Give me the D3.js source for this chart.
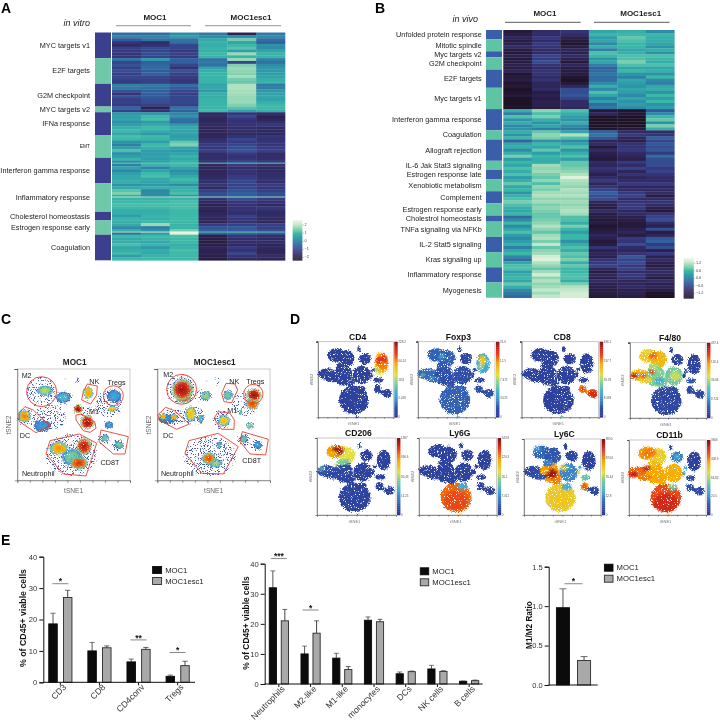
<!DOCTYPE html>
<html><head><meta charset="utf-8">
<script src="https://cdn.jsdelivr.net/npm/d3@7"></script>
<style>html,body{margin:0;padding:0;background:#fff}svg{display:block;font-family:"Liberation Sans",Arial,sans-serif;filter:blur(0.35px)}</style>
</head><body><svg id="fig" width="720" height="723"></svg>
<script>
// ---------- Panel A data ----------
const aLabels=["MYC targets v1","E2F targets","G2M checkpoint","MYC targets v2","IFNa response","EMT","Interferon gamma response","Inflammatory response","Cholesterol homeostasis","Estrogen response early","Coagulation"];
const aBlocks=[
[[-0.3,-0.3,0.2,-0.1,-1.7,-0.1],[0.1,0.1,0.5,0.2,0.3,0.2],[-0.6,-0.2,-0.2,0.7,1.4,-0.3],[-1.2,-1.4,-0.3,0.9,0.6,-0.5],[-1.5,-1.3,-0.9,0.8,1.0,0.3],[-1.0,-0.8,-0.9,0.9,1.2,0.2],[-1.1,-0.9,-1.1,0.8,0.5,0.6],[-1.2,-0.8,-1.0,1.0,1.7,0.9],[-1.2,-0.9,-1.1,0.9,0.9,0.9]],
[[-0.2,0.4,-0.5,-0.2,1.7,0.0],[-0.9,-0.5,-0.5,-0.1,-0.9,-0.2],[-0.7,-0.4,-0.9,-0.2,1.5,0.2],[-1.0,-0.3,-1.3,0.6,1.7,0.4],[-0.8,-0.6,-0.7,0.8,1.6,0.4],[-1.0,-0.5,-1.0,0.9,1.5,0.5],[-0.9,-0.9,-1.1,0.9,1.8,0.6],[-1.0,-1.0,-1.2,0.9,1.4,0.8],[-1.1,-1.0,-1.2,0.9,1.3,0.9]],
[[0,-0.1,-0.3,0.6,1.9,-0.1],[-0.1,-0.2,-0.6,0.7,1.9,0.0],[-0.7,-0.5,-0.9,0.4,1.8,0.4],[-1.2,-0.5,-1.0,0.8,1.8,0.6],[-0.7,-0.6,-0.9,0.8,1.7,0.7],[-1.0,-0.7,-0.9,0.9,1.7,0.6],[-1.0,-0.8,-0.9,0.9,1.7,0.8],[-1.1,-1.0,-1.0,0.9,1.5,1.0]],
[[-0.4,-1.7,-0.2,0.9,1.2,1.0],[-1.0,-1.3,-0.5,1.0,0.6,0.8]],
[[0.4,0.4,0.1,-1.5,-1.2,-1.4],[0.5,1.0,0.3,-1.5,-0.9,-1.7],[0.6,1.1,-0.2,-1.6,-1.2,-1.6],[0.3,0.4,-0.3,-1.5,-1.3,-1.4],[0.5,0.7,0.4,-1.5,-1.3,-1.2],[0.8,1.0,0.7,-1.6,-1.4,-1.5],[1.0,0.8,0.6,-1.6,-1.4,-1.5],[0.7,0.4,0.6,-1.6,-1.5,-1.5]],
[[1.1,1.0,0.5,-1.6,-1.3,-1.2],[1.0,0.9,0.6,-1.4,-0.9,-1.3],[0.3,0.5,1.3,-1.3,-1.1,-1.2],[0.0,1.0,1.5,-1.1,-0.9,-1.2],[0.5,0.8,0.6,-1.2,-0.8,-1.1],[1.1,0.5,0.4,-1.0,-0.7,-1.0],[0.3,0.5,0.6,-1.4,-1.1,-1.4],[0.5,0.6,0.9,-1.4,-1.3,-1.4]],
[[0.9,0.5,0.7,-1.4,-1.2,-1.4],[0.2,0.6,0.9,-1.3,-0.9,-1.1],[0.0,0.9,1.0,-1.5,-1.1,-1.3],[0.6,0.1,0.6,-1.6,-1.4,-1.5],[0.1,0.6,0.2,-1.6,-1.3,-1.5],[0.5,1.0,0.4,-1.6,-1.3,-1.4],[0.7,1.1,0.7,-1.5,-1.1,-1.4],[0.7,0.7,1.0,-1.4,-1.0,-1.3],[0.8,0.6,0.8,-1.4,-0.9,-1.4]],
[[0.3,0.4,0.2,-1.2,-1.0,-1.1],[0.7,0.8,0.8,-1.5,-0.9,-1.2],[1.2,0.1,0.9,-1.0,-0.7,-1.0],[1.5,0.2,1.1,-0.8,-0.5,-0.8],[0.8,0.2,0.4,-0.8,-0.5,-0.8],[0.9,0.9,0.9,-1.3,-0.8,-1.1],[1.0,1.0,1.1,-1.5,-1.2,-1.3],[1.1,1.1,1.1,-1.7,-1.3,-1.5],[1.0,1.0,1.1,-1.6,-1.3,-1.2],[0.8,0.8,1.0,-1.7,-1.3,-1.4]],
[[0.8,0.8,1.0,-1.6,-1.4,-1.5],[0.5,0.9,1.0,-1.5,-1.0,-1.4],[0.9,0.8,1.0,-1.6,-1.2,-1.5]],
[[0.8,1.0,1.0,-1.6,-1.3,-1.5],[0.7,1.7,0.9,-1.1,-1.0,-1.0],[0.2,0.0,0.9,-0.7,-0.6,-1.0],[0.8,0.3,1.4,-0.5,-0.6,-0.8],[-0.2,0.4,2.5,-0.5,-0.4,-0.6]],
[[1.0,1.0,1.1,-1.8,-1.2,-1.4],[0.7,0.9,1.0,-1.9,-1.4,-1.5],[0.8,0.7,1.0,-1.9,-1.4,-1.4],[1.1,0.9,0.8,-1.8,-1.5,-1.6],[0.7,0.4,0.9,-1.6,-1.1,-1.5],[0.8,0.8,1.1,-1.7,-1.3,-1.6],[1.0,0.7,1.0,-1.7,-0.9,-1.6],[0.5,0.9,1.0,-1.9,-1.3,-1.4],[1.0,1.0,1.0,-1.9,-1.5,-1.6]]
];
// thin light streaks: row index, six values
const aStreaks=[[45.7,[1.3,1.3,1.3,1.2,1.2,1.2]],[57.6,[2.0,2.0,2.0,1.6,1.6,1.6]],[69.9,[2.0,2.2,2.6,1.2,1.3,1.3]]];
const aTicks=[2,1,0,-1,-2];
// ---------- Panel B data ----------
const bLabels=["Unfolded protein response","Mitotic spindle","Myc targets v2","G2M checkpoint","E2F targets","Myc targets v1","Interferon gamma response","Coagulation","Allograft rejection","IL-6 Jak Stat3 signaling","Estrogen response late","Xenobiotic metabolism","Complement","Estrogen response early","Cholestrol homeostasis","TNFa signaling via NFKb","IL-2 Stat5 signaling","Kras signaling up","Inflammatory response","Myogenesis"];
const bBlocks=[
[[-1.3,-0.9,-0.8,0.4,0.5,0.1],[-1.2,-0.9,-0.9,0.6,0.6,0.6],[-1.0,-0.7,-1.1,0.3,0.8,0.5]],
[[-1.2,-0.9,-1.3,0.4,0.7,0.5],[-1.1,-0.7,-1.4,0.1,0.6,0.4],[-0.9,-0.8,-1.2,0.5,0.6,0.2],[-1.2,-0.9,-1.0,0.0,0.4,0.5]],
[[-1.3,-0.9,-1.1,0.7,0.5,0.2],[-1.1,-0.6,-0.9,0.6,0.7,0.7]],
[[-1.3,-0.7,-1.1,0.2,0.7,0.6],[-1.2,-0.5,-1.3,0.4,0.9,0.5],[-1.1,-0.8,-1.0,0.0,0.7,0.7],[-1.2,-0.9,-1.2,-0.3,0.4,0.4]],
[[-1.0,-0.8,-1.2,-0.2,0.6,0.5],[-1.4,-0.8,-1.2,-0.1,0.2,0.2],[-1.3,-0.9,-1.4,-0.2,0.0,0.6],[-1.2,-0.8,-1.5,-0.2,0.4,0.1],[-1.4,-1.0,-1.3,0.1,0.3,0.0],[-1.3,-1.0,-1.0,0.5,0.2,0.4]],
[[-1.5,-0.9,-0.5,0.1,0.4,0.5],[-1.4,-1.2,-0.5,0.7,0.3,0.2],[-1.3,-1.1,-0.4,0.4,0.1,0.6],[-1.5,-1.2,-0.6,0.0,0.4,0.3],[-1.5,-1.1,-0.9,0.3,0.2,0.6],[-1.6,-1.1,-0.9,-0.2,0.3,0.2],[-1.6,-1.2,-1.0,-0.1,0.1,0.3]],
[[0.5,1.0,0.7,-1.3,-1.4,-0.4],[0.0,0.7,0.5,-1.0,-1.3,0.1],[0.7,0.9,0.3,-1.6,-1.5,0.6],[0.2,0.5,0.2,-1.6,-1.6,0.8],[0.5,0.2,0.5,-1.7,-1.7,0.2],[0.1,0.4,0.1,-1.6,-1.6,0.9],[0.2,0.0,-0.1,-1.4,-1.3,0.5]],
[[0.5,0.8,0.4,-0.3,-0.9,-0.9],[0.2,1.0,1.2,-0.1,-0.7,-0.8],[0.6,0.9,0.7,-0.4,-1.0,-0.3]],
[[-0.3,0.2,0.1,-1.0,-1.1,-0.6],[0.4,0.6,0.4,-0.9,-0.8,-0.4],[0.5,0.4,0.7,-1.3,-0.8,-0.5],[0.1,0.8,0.2,-0.9,-0.7,-0.4],[0.5,0.3,0.5,-1.1,-0.9,-0.7],[0.9,0.6,0.7,-1.2,-1.0,-0.2],[0.3,0.5,0.3,-1.3,-1.1,-0.5]],
[[0.6,0.5,0.8,-0.9,-0.7,-0.5],[0.4,1.1,0.8,-1.0,-0.9,-0.5],[0.7,1.0,0.9,-0.8,-0.6,-0.7]],
[[0.5,1.1,1.0,-0.9,-1.0,-0.6],[0.7,0.9,1.2,-1.1,-0.8,-0.8],[0.3,0.8,1.5,-0.9,-1.0,-0.9]],
[[0.5,1.0,1.2,-0.7,-0.9,-0.9],[0.8,0.7,1.1,-1.0,-0.7,-0.7],[0.4,1.0,1.0,-0.8,-1.0,-1.0],[0.6,0.9,1.2,-0.6,-0.9,-0.9]],
[[0.2,1.1,1.1,-0.3,-0.7,-0.9],[0.5,1.2,1.2,-0.5,-0.6,-1.2],[0.7,1.0,1.0,-0.5,-0.9,-0.9],[0.9,1.1,1.1,-1.0,-0.8,-0.8]],
[[0.7,0.9,1.0,-1.1,-0.7,-0.9],[0.5,1.0,1.1,-1.2,-0.7,-1.1],[0.4,0.9,1.2,-0.9,-1.0,-1.3],[0.6,0.8,1.1,-1.2,-0.9,-0.8]],
[[-0.2,0.8,0.7,-1.2,-1.1,-0.6],[0.1,0.9,0.7,-1.3,-1.2,-0.5]],
[[0.6,1.0,0.5,-1.2,-1.3,-0.9],[0.1,1.2,0.9,-1.4,-1.3,-1.1],[0.4,1.0,0.6,-1.3,-1.1,-0.5],[0.7,0.8,0.3,-1.2,-1.0,-1.2],[0.3,1.1,0.6,-1.0,-1.2,-1.0]],
[[0.1,1.2,0.6,-1.1,-0.7,-0.4],[0.3,0.9,0.2,-1.3,-0.8,-0.3],[0.5,1.3,0.5,-1.2,-0.5,-0.7],[0.0,0.8,0.7,-0.8,-0.9,-0.5],[0.4,1.0,0.5,-1.1,-1.0,-1.1]],
[[0.6,1.1,0.8,-1.0,-0.8,-0.7],[0.1,1.4,0.7,-1.1,-0.4,-1.1],[-0.2,1.5,0.9,-0.8,-0.6,-0.9],[0.4,1.2,0.5,-0.7,-0.5,-1.1],[0.7,1.0,0.8,-0.6,-0.7,-1.2]],
[[0.7,0.8,0.6,-1.0,-0.6,-1.0],[0.3,1.1,0.6,-1.2,-0.9,-0.9],[0.5,1.4,0.7,-1.0,-0.7,-1.0],[0.6,1.0,0.7,-1.1,-0.8,-1.2],[0.4,1.2,0.5,-0.9,-1.0,-0.9]],
[[0.8,1.0,0.9,-1.1,-1.0,-1.1],[0.5,1.1,1.2,-1.1,-0.9,-1.0],[0.1,1.3,1.3,-1.2,-1.1,-1.2],[-0.1,1.1,1.4,-1.2,-1.1,-1.6],[-0.2,1.3,1.4,-1.3,-1.2,-1.7]]
];
const bTicks=[1.2,0.6,0.0,-0.6,-1.2];
// ---------- Panel C data (t-SNE units, gates and density blobs) ----------
const cNames=["MOC1","MOC1esc1"];
const cSparse=[
 [[73,68,44,44],[140,85,28,20],[100,145,48,38],[183,35,6,12],[150,30,5,5],[30,145,30,24],[165,258,78,62],[275,105,42,38],[262,212,20,18],[305,228,20,18],[210,130,20,20]],
 [[73,61,44,44],[140,80,26,20],[110,140,35,30],[183,35,6,12],[150,30,5,5],[50,145,42,24],[160,262,78,60],[265,105,38,35],[262,212,20,18],[302,228,20,18],[195,150,26,30]]
];
const cDensity=[
 [[83,65,26,17,.52],[138,85,24,18,.36],[213,72,16,20,.72],[290,82,24,22,.3],[285,120,15,10,.66],[182,120,15,14,.98],[210,160,23,23,.98],[275,168,14,12,.3],[22,141,21,21,.76],[75,170,28,20,.28],[263,208,13,13,.44],[305,228,13,13,.44],[165,265,34,28,.45],[125,238,31,23,.74],[200,232,25,29,.94],[185,282,29,21,.88]],
 [[145,80,18,15,.5],[100,135,18,25,.66],[130,148,10,15,.4],[212,78,16,16,.45],[285,105,21,19,.85],[290,78,25,21,.98],[250,130,6,8,.45],[278,170,12,10,.5],[200,155,19,19,.66],[30,150,30,15,.25],[18,143,11,11,.72],[50,145,12,10,.72],[260,210,14,12,.42],[302,228,13,13,.3],[185,228,10,12,.4],[175,283,22,14,.5],[155,268,23,19,.84],[80,85,26,19,.9],[75,62,36,36,.97]]
];
const cCircles=[[[73,68,45],[288,80,30]],[[73,61,45],[288,75,29]]];
const cPolys=[
 [[[210,45],[240,51],[238,78],[220,105],[193,93],[198,68]],[[176,138],[193,135],[233,161],[236,178],[218,190],[198,185],[176,153]],[[23,113],[48,123],[98,171],[56,191],[6,158],[5,133]],[[251,183],[333,203],[323,255],[288,255],[245,218]],[[98,215],[186,195],[238,223],[206,321],[138,315],[86,255]]],
 [[[206,43],[233,45],[241,63],[223,101],[200,98],[193,73]],[[183,128],[218,133],[231,153],[230,181],[193,181],[170,148]],[[25,115],[51,125],[96,165],[58,181],[8,155],[1,138]],[[255,188],[333,211],[325,258],[278,255],[248,218]],[[95,215],[183,193],[243,233],[198,315],[133,313],[83,253]]]
];
const cLabelText=["M2","NK","Tregs","M1","DC","CD8T","Neutrophil"];
const cLabelAt=[
 [[28,21],[231,38],[298,40],[230,128],[23,200],[278,281],[63,313]],
 [[33,16],[231,38],[294,38],[225,124],[33,200],[283,275],[60,313]]
];
// ---------- Panel D data (t-SNE units) ----------
const tsneCells=[[55,40,28,20],[85,50,25,25],[28,97,28,17],[76,100,27,32],[131,100,27,28],[123,23,5,9],[141,51,18,17],[191,65,20,30],[166,85,6,6],[161,100,5,8],[181,115,14,8],[179,142,11,12],[208,155,14,13],[191,150,8,5],[108,175,45,43],[128,140,14,8],[118,225,5,2],[70,72,14,10],[45,112,22,10],[95,120,16,16]];
const dMarkers=["CD4","Foxp3","CD8","F4/80","CD206","Ly6G","Ly6C","CD11b"];
const dCellValues=[
 [.05,.05,.05,.05,.05,.05,.05,.7,.05,.05,.06,.05,.05,.05,.05,.05,.05,.05,.05,.05],
 [.14,.14,.16,.1,.1,.05,.07,.3,.07,.07,.07,.1,.1,.1,.14,.14,.3,.12,.16,.1],
 [.05,.05,.05,.05,.05,.05,.05,.05,.05,.05,.05,.7,.8,.75,.05,.05,.4,.05,.05,.05],
 [.62,.66,.65,.45,.42,.05,.07,.05,.05,.05,.12,.07,.07,.07,.07,.07,.1,.5,.6,.45],
 [.72,.55,.1,.07,.05,.05,.05,.05,.05,.05,.05,.05,.05,.05,.06,.05,.05,.45,.08,.06],
 [.05,.05,.05,.05,.05,.05,.05,.05,.05,.05,.05,.05,.05,.05,.78,.3,.65,.05,.05,.05],
 [.15,.12,.08,.72,.22,.05,.07,.05,.3,.55,.4,.7,.07,.1,.6,.3,.7,.2,.1,.75],
 [.72,.6,.78,.7,.68,.05,.2,.05,.3,.3,.1,.1,.08,.08,.82,.5,.7,.65,.75,.7]
];
const dSpots=[
 [[191,55,17,20,.85],[196,72,14,12,.75],[178,85,8,10,.5],[188,95,8,5,.55],[185,40,8,6,.7]],
 [[190,55,12,14,.62],[185,75,8,8,.5],[70,45,8,8,.3],[15,100,6,5,.4],[40,110,5,4,.38]],
 [[179,142,8,8,.85],[208,155,10,8,.88],[216,160,6,6,.9]],
 [[68,38,12,10,.8],[55,30,12,6,.55],[14,100,12,8,.9],[40,100,8,6,.85],[65,88,8,6,.85],[135,100,15,15,.52],[88,115,14,10,.3]],
 [[60,37,16,13,.95],[45,45,14,8,.68],[80,55,12,12,.55],[85,70,10,8,.4],[15,90,9,6,.4],[55,80,6,5,.5]],
 [[125,143,14,8,.3],[108,185,35,30,.82]],
 [[80,103,18,14,.95],[62,95,14,8,.7],[40,30,12,8,.25],[118,85,14,8,.62],[128,82,8,6,.35],[178,143,7,9,.82],[108,180,38,32,.62],[125,145,14,8,.3]],
 [[52,85,10,8,.92],[12,105,12,9,.9],[108,190,36,28,.88],[130,145,12,7,.4],[60,40,20,12,.76],[141,50,9,8,.32]]
];
const dBarLabels=[["228.2","60.24","18.8","5.028","0"],["31.6","12.5","7.372","3.025","0"],["436.1","137.7","33.78","8.093","0"],["437.4","132.4","36.86","8.724","0"],["1397","696.6","80.43","14.25","0"],["543.8","120.3","26.1","7.011","0"],["3950","874.6","76.44","12.8","0"],["3606","408.9","66.82","20.5","0"]];
// ---------- Panel E data ----------
const seriesNames=["MOC1","MOC1esc1"];
const e1Cats=["CD3","CD8","CD4conv","Tregs"];
const e1Moc1=[18.6,10,6.5,1.9], e1Moc1Top=[22,12.7,7.4,2.3];
const e1Esc=[27,11,10.5,5.3], e1EscTop=[29.3,11.6,11.1,6.7];
const e1Sig=[["CD3","*",31.4],["CD4conv","**",13.5],["Tregs","*",9.5]];
const e2Cats=["Neutrophils","M2-like","M1-like","monocytes","DCs","NK cells","B cells"];
const e2Moc1=[32,10,8.6,21.2,3.4,5,0.9], e2Moc1Top=[37.6,12.6,10.2,22.3,4.0,6.2,1.0];
const e2Esc=[21,16.9,4.8,20.7,4.1,4.2,1.1], e2EscTop=[24.8,21,5.8,21.5,4.3,4.4,1.3];
const e2Sig=[["Neutrophils","***",41.7],["M2-like","*",24.6]];
const e3Moc1=[0.98], e3Moc1Top=[1.22], e3Esc=[0.31], e3EscTop=[0.36];
const e3Sig=[["r","*",1.284]];

// ---------- shared ----------
const svg=d3.select("#fig");
const defs=svg.append("defs");
const ink="#1c1c1c";
function txt(g,x,y,s,o={}){
 const t=g.append("text").attr("x",x).attr("y",y).text(s)
  .attr("font-size",o.size||7).attr("fill",o.fill||ink)
  .attr("text-anchor",o.anchor||"middle").attr("dominant-baseline","central");
 if(o.bold)t.attr("font-weight","bold");
 if(o.italic)t.attr("font-style","italic");
 if(o.rotate!==undefined)t.attr("transform",`rotate(${o.rotate} ${x} ${y})`);
 return t;
}
const heatColor=d3.scaleLinear()
 .domain([-2.4,-1.7,-1.1,-0.5,0,0.5,1,1.6,2.2,2.65])
 .range(["#1e1326","#2d2252","#373a82","#32609f","#2f80a5","#2f9eaa","#3cb9a8","#8fd5b2","#d0ecd0","#eef7e8"])
 .clamp(true);
const jetColor=d3.scaleLinear()
 .domain([0,.1,.3,.45,.55,.7,.85,1])
 .range(["#2a3590","#2f4ea8","#3fa9dc","#7fcf8f","#e4e040","#f7a800","#e5301c","#7d0c12"])
 .clamp(true);
function noiseFilter(id,disp,freq,seed,k,c){
 const f=defs.append("filter").attr("id",id).attr("x","-10%").attr("y","-10%").attr("width","120%").attr("height","120%").attr("color-interpolation-filters","sRGB");
 f.append("feTurbulence").attr("type","fractalNoise").attr("baseFrequency",freq).attr("numOctaves",1).attr("seed",seed).attr("result","n");
 f.append("feDisplacementMap").attr("in","SourceGraphic").attr("in2","n").attr("scale",disp).attr("xChannelSelector","R").attr("yChannelSelector","G").attr("result","d");
 f.append("feColorMatrix").attr("in","n").attr("type","matrix").attr("values",`0 0 0 0 0 0 0 0 0 0 0 0 0 0 0 ${k} 0 0 0 ${c}`).attr("result","m");
 f.append("feComposite").attr("in","d").attr("in2","m").attr("operator","in");
}
noiseFilter("grainD",5,1.3,4,10,-2.9);
noiseFilter("grainSparse",5,1.3,7,14,-7.8);
noiseFilter("grainDense",5,1.3,11,10,-2.4);
defs.append("filter").attr("id","soft").attr("x","-40%").attr("y","-40%").attr("width","180%").attr("height","180%").attr("color-interpolation-filters","sRGB")
 .append("feGaussianBlur").attr("stdDeviation",1.3);
defs.append("filter").attr("id","heatBlur").attr("x","-2%").attr("y","-2%").attr("width","104%").attr("height","104%").attr("color-interpolation-filters","sRGB")
 .append("feGaussianBlur").attr("stdDeviation",0.3);

// ---------- heatmaps ----------
function heatmap(o){
 const rows=o.blocks.flat();
 const y=d3.scaleBand().domain(d3.range(rows.length)).range([o.top,o.bottom]);
 const x=d3.scaleBand().domain(d3.range(6)).range([o.left,o.right]);
 const tv=v=>heatColor(v*o.factor);
 const g=svg.append("g").attr("filter","url(#heatBlur)");
 rows.forEach((r,i)=>g.selectAll(null).data(r).join("rect")
   .attr("x",(d,j)=>x(j)).attr("y",y(i)).attr("width",x.bandwidth()+.3).attr("height",y.bandwidth()+.3).attr("fill",d=>tv(d)));
 (o.streaks||[]).forEach(([p,vals])=>g.selectAll(null).data(vals).join("rect")
   .attr("x",(d,j)=>x(j)).attr("y",o.top+p*y.step()).attr("width",x.bandwidth()+.3).attr("height",1).attr("fill",d=>tv(d)));
 let c=0;
 o.blocks.forEach((b,i)=>{
  const y0=y(c),y1=y(c+b.length-1)+y.bandwidth();
  svg.append("rect").attr("x",o.sideX).attr("y",y0).attr("width",o.sideW).attr("height",y1-y0).attr("fill",o.sideColors[i%2]);
  const lab=o.labels[i];
  txt(svg,o.labelX,(y0+y1)/2,lab,{anchor:"end",size:lab==="EMT"?4.8:o.fs,fill:"#222"});
  c+=b.length;
 });
 txt(svg,o.tagX,o.tagY,o.tag,{anchor:"end",italic:true,size:9});
 o.heads.forEach(h=>{
  txt(svg,h.cx,o.headY,h.name,{bold:true,size:8});
  svg.append("line").attr("x1",h.x1).attr("x2",h.x2).attr("y1",o.lineY).attr("y2",o.lineY).attr("stroke",o.lineColor).attr("stroke-width",.8);
 });
 // colour bar
 const cb=d3.scaleLinear().domain(o.cbDomain).range([o.cbTop,o.cbBottom]);
 const steps=d3.range(0,41).map(i=>o.cbDomain[0]+(o.cbDomain[1]-o.cbDomain[0])*i/41);
 const ch=(o.cbBottom-o.cbTop)/41;
 svg.append("g").selectAll("rect").data(steps).join("rect").attr("x",o.cbX).attr("width",o.cbW)
   .attr("y",d=>cb(d)).attr("height",ch+.3).attr("fill",d=>tv(d));
 o.ticks.forEach(t=>{
  svg.append("line").attr("x1",o.cbX+o.cbW).attr("x2",o.cbX+o.cbW+1.5).attr("y1",cb(t)).attr("y2",cb(t)).attr("stroke","#666").attr("stroke-width",.4);
  txt(svg,o.cbX+o.cbW+2.2,cb(t),o.fmt(t),{anchor:"start",size:3.8,fill:"#444"});
 });
}
heatmap({blocks:aBlocks,labels:aLabels,streaks:aStreaks,top:32.5,bottom:260.3,left:112,right:285,factor:1,
 sideX:95,sideW:16,sideColors:["#3b3f8e","#6fc9a8"],labelX:90,fs:7.3,tag:"in vitro",tagX:90,tagY:23,
 heads:[{name:"MOC1",cx:155,x1:116,x2:191},{name:"MOC1esc1",cx:251,x1:205,x2:281}],headY:17,lineY:25.7,lineColor:"#777",
 cbX:292.7,cbW:9.6,cbTop:220,cbBottom:260.3,cbDomain:[2.62,-2.35],ticks:aTicks,fmt:d=>String(d).replace("-","\u2212")});
heatmap({blocks:bBlocks,labels:bLabels,top:30,bottom:297.7,left:503.3,right:674.3,factor:1.6,
 sideX:486,sideW:16,sideColors:["#3a5ea9","#5fc4a4"],labelX:481.7,fs:7.3,tag:"in vivo",tagX:478,tagY:19,
 heads:[{name:"MOC1",cx:545,x1:505,x2:580.7},{name:"MOC1esc1",cx:640.7,x1:594,x2:669.7}],headY:13,lineY:22.3,lineColor:"#333",
 cbX:683.7,cbW:10,cbTop:258,cbBottom:298.3,cbDomain:[1.62,-1.6],ticks:bTicks,fmt:d=>d3.format(".1f")(d).replace("-","\u2212")});

// ---------- frame with ticks ----------
function frame(x,y,g,n,light,tick){
 const [x0,x1]=x.range(),[y1,y0]=y.range();
 g.append("rect").attr("x",x0).attr("y",y0).attr("width",x1-x0).attr("height",y1-y0).attr("fill","none").attr("stroke",light).attr("stroke-width",.7);
 const xa=d3.axisBottom(x).tickValues(d3.range(0,n).map(i=>x.domain()[1]*i/(n-1))).tickFormat("").tickSize(tick);
 const ya=d3.axisLeft(y).tickValues(d3.range(0,n).map(i=>y.domain()[1]*i/(n-1))).tickFormat("").tickSize(tick);
 [g.append("g").attr("transform",`translate(0,${y1})`).call(xa),g.append("g").attr("transform",`translate(${x0},0)`).call(ya)]
  .forEach(a=>{a.selectAll("path,line").attr("stroke","#555").attr("stroke-width",.6);});
}
// ---------- Panel C ----------
function densityGradient(id,v){
 const gr=defs.append("radialGradient").attr("id",id);
 [[0,v,1],[.55,v*.88,1],[.8,v*.5,.9],[1,.12,.0]].forEach(([o,c,a])=>gr.append("stop").attr("offset",o).attr("stop-color",jetColor(c)).attr("stop-opacity",a));
}
const cFrames=[[17.3,130],[157.3,270]];
cNames.forEach((nm,k)=>{
 const x=d3.scaleLinear().domain([0,338]).range(cFrames[k]);
 const y=d3.scaleLinear().domain([334,0]).range([480.3,369]);
 const g=svg.append("g");
 frame(x,y,g,10,"#b5b5b5",2.5);
 txt(g,(cFrames[k][0]+cFrames[k][1])/2+1,362,nm,{bold:true,size:8.2});
 txt(g,(cFrames[k][0]+cFrames[k][1])/2,490,"tSNE1",{size:6.6,fill:"#666"});
 txt(g,cFrames[k][0]-9,425,"tSNE2",{size:6.6,fill:"#666",rotate:-90});
 const sx=(cFrames[k][1]-cFrames[k][0])/338, sy=111.3/334;
 g.append("g").attr("filter","url(#grainSparse)").selectAll("ellipse").data(cSparse[k]).join("ellipse")
   .attr("cx",d=>x(d[0])).attr("cy",d=>y(d[1])).attr("rx",d=>d[2]*sx).attr("ry",d=>d[3]*sy).attr("fill","#4458b8");
 const dg=g.append("g").attr("filter","url(#grainDense)");
 cDensity[k].forEach((d,i)=>{
  const id=`cd${k}_${i}`; densityGradient(id,d[4]);
  dg.append("ellipse").attr("cx",x(d[0])).attr("cy",y(d[1])).attr("rx",d[2]*sx).attr("ry",d[3]*sy).attr("fill",`url(#${id})`);
 });
 const line=d3.line().x(d=>x(d[0])).y(d=>y(d[1])).curve(d3.curveLinearClosed);
 cPolys[k].forEach(p=>g.append("path").attr("d",line(p)).attr("fill","none").attr("stroke","#e8402f").attr("stroke-width",.9));
 cCircles[k].forEach(c=>g.append("ellipse").attr("cx",x(c[0])).attr("cy",y(c[1])).attr("rx",c[2]*sx).attr("ry",c[2]*sy).attr("fill","none").attr("stroke","#e8402f").attr("stroke-width",.9));
 cLabelText.forEach((s,i)=>txt(g,x(cLabelAt[k][i][0]),y(cLabelAt[k][i][1]),s,{size:7.2,fill:"#222"}));
});
// ---------- Panel D ----------
const dFrames=[[318,393.3,341.7,417.3],[418,495,341.7,417.3],[521.7,598.7,341.7,417.3],[630,706,342.7,418],[317,396,438,515],[419,496.7,438,515],[524,600.7,439,515],[629,706,440,515]];
dMarkers.forEach((m,k)=>{
 const [l,r,t,b]=dFrames[k];
 const x=d3.scaleLinear().domain([0,226]).range([l,r]);
 const y=d3.scaleLinear().domain([227,0]).range([b,t]);
 const sx=(r-l)/226, sy=(b-t)/227;
 const g=svg.append("g");
 frame(x,y,g,9,"#b0b0b0",1.6);
 txt(g,(l+r)/2+2,t-5,m,{bold:true,size:8.6,fill:"#111"});
 txt(g,(l+r)/2-2,b+6.5,"tSNE1",{size:4,fill:"#777"});
 txt(g,l-7,(t+b)/2,"tSNE2",{size:4,fill:"#777",rotate:-90});
 const pg=g.append("g").attr("filter","url(#grainD)");
 pg.selectAll("ellipse.c").data(tsneCells).join("ellipse").attr("class","c")
   .attr("cx",d=>x(d[0])).attr("cy",d=>y(d[1])).attr("rx",d=>d[2]*sx).attr("ry",d=>d[3]*sy)
   .attr("fill",(d,i)=>jetColor(dCellValues[k][i]));
 pg.append("g").attr("filter","url(#soft)").selectAll("ellipse").data(dSpots[k]).join("ellipse")
   .attr("cx",d=>x(d[0])).attr("cy",d=>y(d[1])).attr("rx",d=>d[2]*sx).attr("ry",d=>d[3]*sy).attr("fill",d=>jetColor(d[4]));
 // colour bar
 const cx=r+1;
 const cb=d3.scaleLinear().domain([1,0]).range([t,b]);
 g.append("g").selectAll("rect").data(d3.range(0,1,1/40)).join("rect").attr("x",cx).attr("width",3.4)
   .attr("y",d=>cb(d+1/40)).attr("height",(b-t)/40+.3).attr("fill",d=>jetColor(d));
 dBarLabels[k].forEach((s,i)=>txt(g,cx+4,t+(b-t)*i/4,s,{anchor:"start",size:3,fill:"#555"}));
});
// ---------- Panel E ----------
function bars(o){
 const g=svg.append("g");
 const y=d3.scaleLinear().domain([0,o.max]).range([o.y0,o.yT]);
 const x=d3.scaleBand().domain(o.cats).range(o.xr);
 const x1=d3.scaleBand().domain(seriesNames).range([-o.half,o.half]).paddingInner(o.pad);
 const ya=g.append("g").attr("transform",`translate(${o.axisX},0)`).call(d3.axisLeft(y).tickValues(o.ticks).tickFormat(o.fmt).tickSize(4).tickPadding(2));
 const styles=[{fill:"#0b0b0b",stroke:"#0b0b0b",err:"#555"},{fill:"#a9a9a9",stroke:"#2a2a2a",err:"#444"}];
 seriesNames.forEach((s,si)=>{
  const vals=si?o.esc:o.moc, tops=si?o.escTop:o.mocTop, st=styles[si];
  const w=x1.bandwidth();
  const cx=c=>x(c)+x.bandwidth()/2+x1(s);
  g.append("g").selectAll("line").data(o.cats).join("line")
   .attr("x1",c=>cx(c)+w/2).attr("x2",c=>cx(c)+w/2).attr("y1",(c,i)=>y(tops[i])).attr("y2",(c,i)=>y(vals[i])).attr("stroke",st.err).attr("stroke-width",1);
  g.append("g").selectAll("line").data(o.cats).join("line")
   .attr("x1",c=>cx(c)+w/2-o.cap).attr("x2",c=>cx(c)+w/2+o.cap).attr("y1",(c,i)=>y(tops[i])).attr("y2",(c,i)=>y(tops[i])).attr("stroke",st.err).attr("stroke-width",.8);
  g.append("g").selectAll("rect").data(o.cats).join("rect")
   .attr("x",c=>cx(c)+.4).attr("width",w-.8).attr("y",(c,i)=>y(vals[i])).attr("height",(c,i)=>y(0)-y(vals[i]))
   .attr("fill",st.fill).attr("stroke",st.stroke).attr("stroke-width",.9);
 });
 const xa=g.append("g").attr("transform",`translate(0,${o.y0})`).call(d3.axisBottom(x).tickSize(o.noCats?0:3).tickFormat(o.noCats?"":d=>d));
 xa.select(".domain").attr("d",`M${o.axisX},0H${o.xEnd}`);
 if(!o.noCats) xa.selectAll("text").attr("text-anchor","end").attr("dominant-baseline","auto").attr("transform","translate(1,0) rotate(-45)").attr("dy",".55em").attr("dx","0").attr("y",3);
 ya.selectAll("text").attr("font-size",o.fs);
 xa.selectAll("text").attr("font-size",8.6);
 [ya,xa].forEach(a=>{a.selectAll("text").attr("font-family","Liberation Sans").attr("fill","#333");a.selectAll("path,line").attr("stroke","#111").attr("stroke-width",1);});
 txt(g,o.yLabX,(o.yLabY),o.yLab,{bold:true,size:o.yLabSize,rotate:-90,fill:"#111"});
 o.sig.forEach(([c,s,v])=>{
  const cx=x(c)+x.bandwidth()/2;
  g.append("line").attr("x1",cx-o.sigHalf).attr("x2",cx+o.sigHalf).attr("y1",y(v)).attr("y2",y(v)).attr("stroke","#555").attr("stroke-width",.7);
  txt(g,cx,y(v)-2.3,s,{bold:true,size:8.5,fill:"#111"});
 });
 seriesNames.forEach((s,i)=>{
  const ly=o.legY+i*o.legStep;
  g.append("rect").attr("x",o.legX).attr("y",ly-3.5).attr("width",o.legW).attr("height",7).attr("fill",styles[i].fill).attr("stroke",styles[i].stroke).attr("stroke-width",.9);
  txt(g,o.legX+o.legW+3.6,ly,s,{anchor:"start",size:7.7,fill:"#222"});
 });
}
bars({cats:e1Cats,moc:e1Moc1,mocTop:e1Moc1Top,esc:e1Esc,escTop:e1EscTop,max:40,ticks:[0,10,20,30,40],fmt:d3.format("d"),
 y0:682.3,yT:556.7,xr:[40.8,197.2],axisX:43.3,xEnd:195,half:12,pad:.367,cap:2.6,fs:7.6,
 yLab:"% of CD45+ viable cells",yLabX:23,yLabY:618,yLabSize:8.8,sig:e1Sig,sigHalf:8,legX:152.6,legY:570,legStep:11,legW:9});
bars({cats:e2Cats,moc:e2Moc1,mocTop:e2Moc1Top,esc:e2Esc,escTop:e2EscTop,max:40,ticks:[0,10,20,30,40],fmt:d3.format("d"),
 y0:684,yT:563.7,xr:[263,485],axisX:264.7,xEnd:482.7,half:10,pad:.333,cap:2.4,fs:7.6,
 yLab:"% of CD45+ viable cells",yLabX:246,yLabY:623,yLabSize:8.4,sig:e2Sig,sigHalf:8,legX:420.3,legY:571.3,legStep:11,legW:8.4});
bars({cats:["r"],moc:e3Moc1,mocTop:e3Moc1Top,esc:e3Esc,escTop:e3EscTop,max:1.5,ticks:[0,.5,1,1.5],fmt:d3.format(".1f"),noCats:true,
 y0:685,yT:566.7,xr:[549,598],axisX:548.7,xEnd:597.7,half:17.5,pad:.34,cap:3.5,fs:7.5,
 yLab:"M1/M2 Ratio",yLabX:529.3,yLabY:625,yLabSize:8.2,sig:e3Sig,sigHalf:9,legX:604.4,legY:567.7,legStep:11,legW:8.6});
// ---------- panel letters ----------
[["A",1,8],["B",375,8],["C",1,319],["D",290,319],["E",1,540]].forEach(([s,x,y])=>txt(svg,x,y,s,{anchor:"start",bold:true,size:14,fill:"#000"}));
</script></body></html>
